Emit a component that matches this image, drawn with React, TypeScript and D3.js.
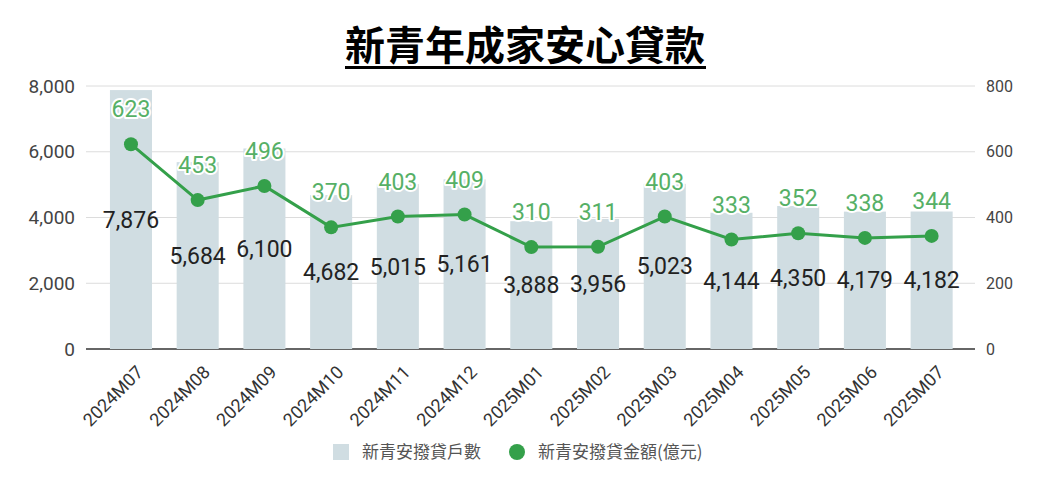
import React from 'react';
import * as d3 from 'd3';

const months = [
  '2024M07', '2024M08', '2024M09', '2024M10', '2024M11', '2024M12',
  '2025M01', '2025M02', '2025M03', '2025M04', '2025M05', '2025M06', '2025M07',
];
const households = [7876, 5684, 6100, 4682, 5015, 5161, 3888, 3956, 5023, 4144, 4350, 4179, 4182];
const amounts = [623, 453, 496, 370, 403, 409, 310, 311, 403, 333, 352, 338, 344];
const leftTicks = [0, 2000, 4000, 6000, 8000];
const rightTicks = [0, 200, 400, 600, 800];

const W = 1040;
const H = 485;
const plot = { left: 86, right: 975, top: 86, bottom: 349 };

const BAR = '#d0dde2';
const GREEN = '#34a04a';
const GREEN_TXT = '#56b066';
const FONT = 'Roboto, "Noto Sans", sans-serif';
const CJK = '"Noto Sans CJK TC", "Noto Sans CJK SC", sans-serif';

const App: React.FC = () => {
  const x = d3.scaleBand<string>().domain(months).range([97.6, 965]).paddingInner(0.37).paddingOuter(0.185);
  const yL = d3.scaleLinear().domain([0, 8000]).range([plot.bottom, plot.top]);
  const yR = d3.scaleLinear().domain([0, 800]).range([plot.bottom, plot.top]);
  const fmt = d3.format(',');

  const cx = (m: string) => (x(m) ?? 0) + x.bandwidth() / 2;
  const line = d3
    .line<number>()
    .x((_, i) => cx(months[i]))
    .y((d) => yR(d));

  return (
    <div style={{ position: 'fixed', left: 0, top: 0 }}>
      <svg width={W} height={H} style={{ display: 'block', background: '#fff' }}>
        {/* title */}
        <text x={525} y={60} textAnchor="middle" fontFamily={CJK} fontWeight={700} fontSize={40} fill="#000">
          新青年成家安心貸款
        </text>
        <rect x={345} y={66} width={361} height={3} fill="#000" />

        {/* grid */}
        {leftTicks.slice(1).map((t) => (
          <line key={t} x1={plot.left} x2={plot.right} y1={yL(t)} y2={yL(t)} stroke="#dcdcdc" strokeWidth={1} />
        ))}
        <line x1={plot.left} x2={plot.right} y1={yL(0)} y2={yL(0)} stroke="#666" strokeWidth={2} />

        {/* left axis */}
        {leftTicks.map((t) => (
          <text key={t} x={75} y={yL(t)} dy="0.35em" textAnchor="end" fontFamily={FONT} fontSize={19} fill="#444">
            {fmt(t)}
          </text>
        ))}
        {/* right axis */}
        {rightTicks.map((t) => (
          <text key={t} x={986} y={yR(t)} dy="0.35em" textAnchor="start" fontFamily={FONT} fontSize={16} fill="#444">
            {t}
          </text>
        ))}

        {/* bars */}
        {months.map((m, i) => (
          <rect
            key={m}
            x={x(m)}
            y={yL(households[i])}
            width={x.bandwidth()}
            height={yL(0) - yL(households[i])}
            fill={BAR}
          />
        ))}

        {/* bar labels */}
        {months.map((m, i) => (
          <text
            key={m}
            x={cx(m)}
            y={(yL(households[i]) + yL(0)) / 2}
            dy="0.35em"
            textAnchor="middle"
            fontFamily={FONT}
            fontSize={23}
            fill="#222"
          >
            {fmt(households[i])}
          </text>
        ))}

        {/* line */}
        <path d={line(amounts) ?? ''} fill="none" stroke={GREEN} strokeWidth={3} />
        {months.map((m, i) => (
          <circle key={m} cx={cx(m)} cy={yR(amounts[i])} r={7} fill={GREEN} />
        ))}
        {months.map((m, i) => (
          <text
            key={m}
            x={cx(m)}
            y={yR(amounts[i]) - 35}
            dy="0.35em"
            textAnchor="middle"
            fontFamily={FONT}
            fontSize={23}
            fill={GREEN_TXT}
            stroke="#fff"
            strokeWidth={4}
            strokeLinejoin="round"
            style={{ paintOrder: 'stroke' }}
          >
            {amounts[i]}
          </text>
        ))}

        {/* x labels */}
        {months.map((m) => (
          <text
            key={m}
            transform={`translate(${cx(m) + 9},${plot.bottom + 20}) rotate(-45)`}
            textAnchor="end"
            dy="0.35em"
            fontFamily={FONT}
            fontSize={18}
            fill="#333"
          >
            {m}
          </text>
        ))}

        {/* legend */}
        <rect x={333} y={444} width={16} height={16} fill={BAR} />
        <text x={362} y={452} dy="0.35em" fontFamily={CJK} fontSize={17} fill="#555">
          新青安撥貸戶數
        </text>
        <circle cx={517} cy={452} r={8} fill={GREEN} />
        <text x={538} y={452} dy="0.35em" fontFamily={CJK} fontSize={17} fill="#555">
          新青安撥貸金額(億元)
        </text>
      </svg>
    </div>
  );
};

export default App;
